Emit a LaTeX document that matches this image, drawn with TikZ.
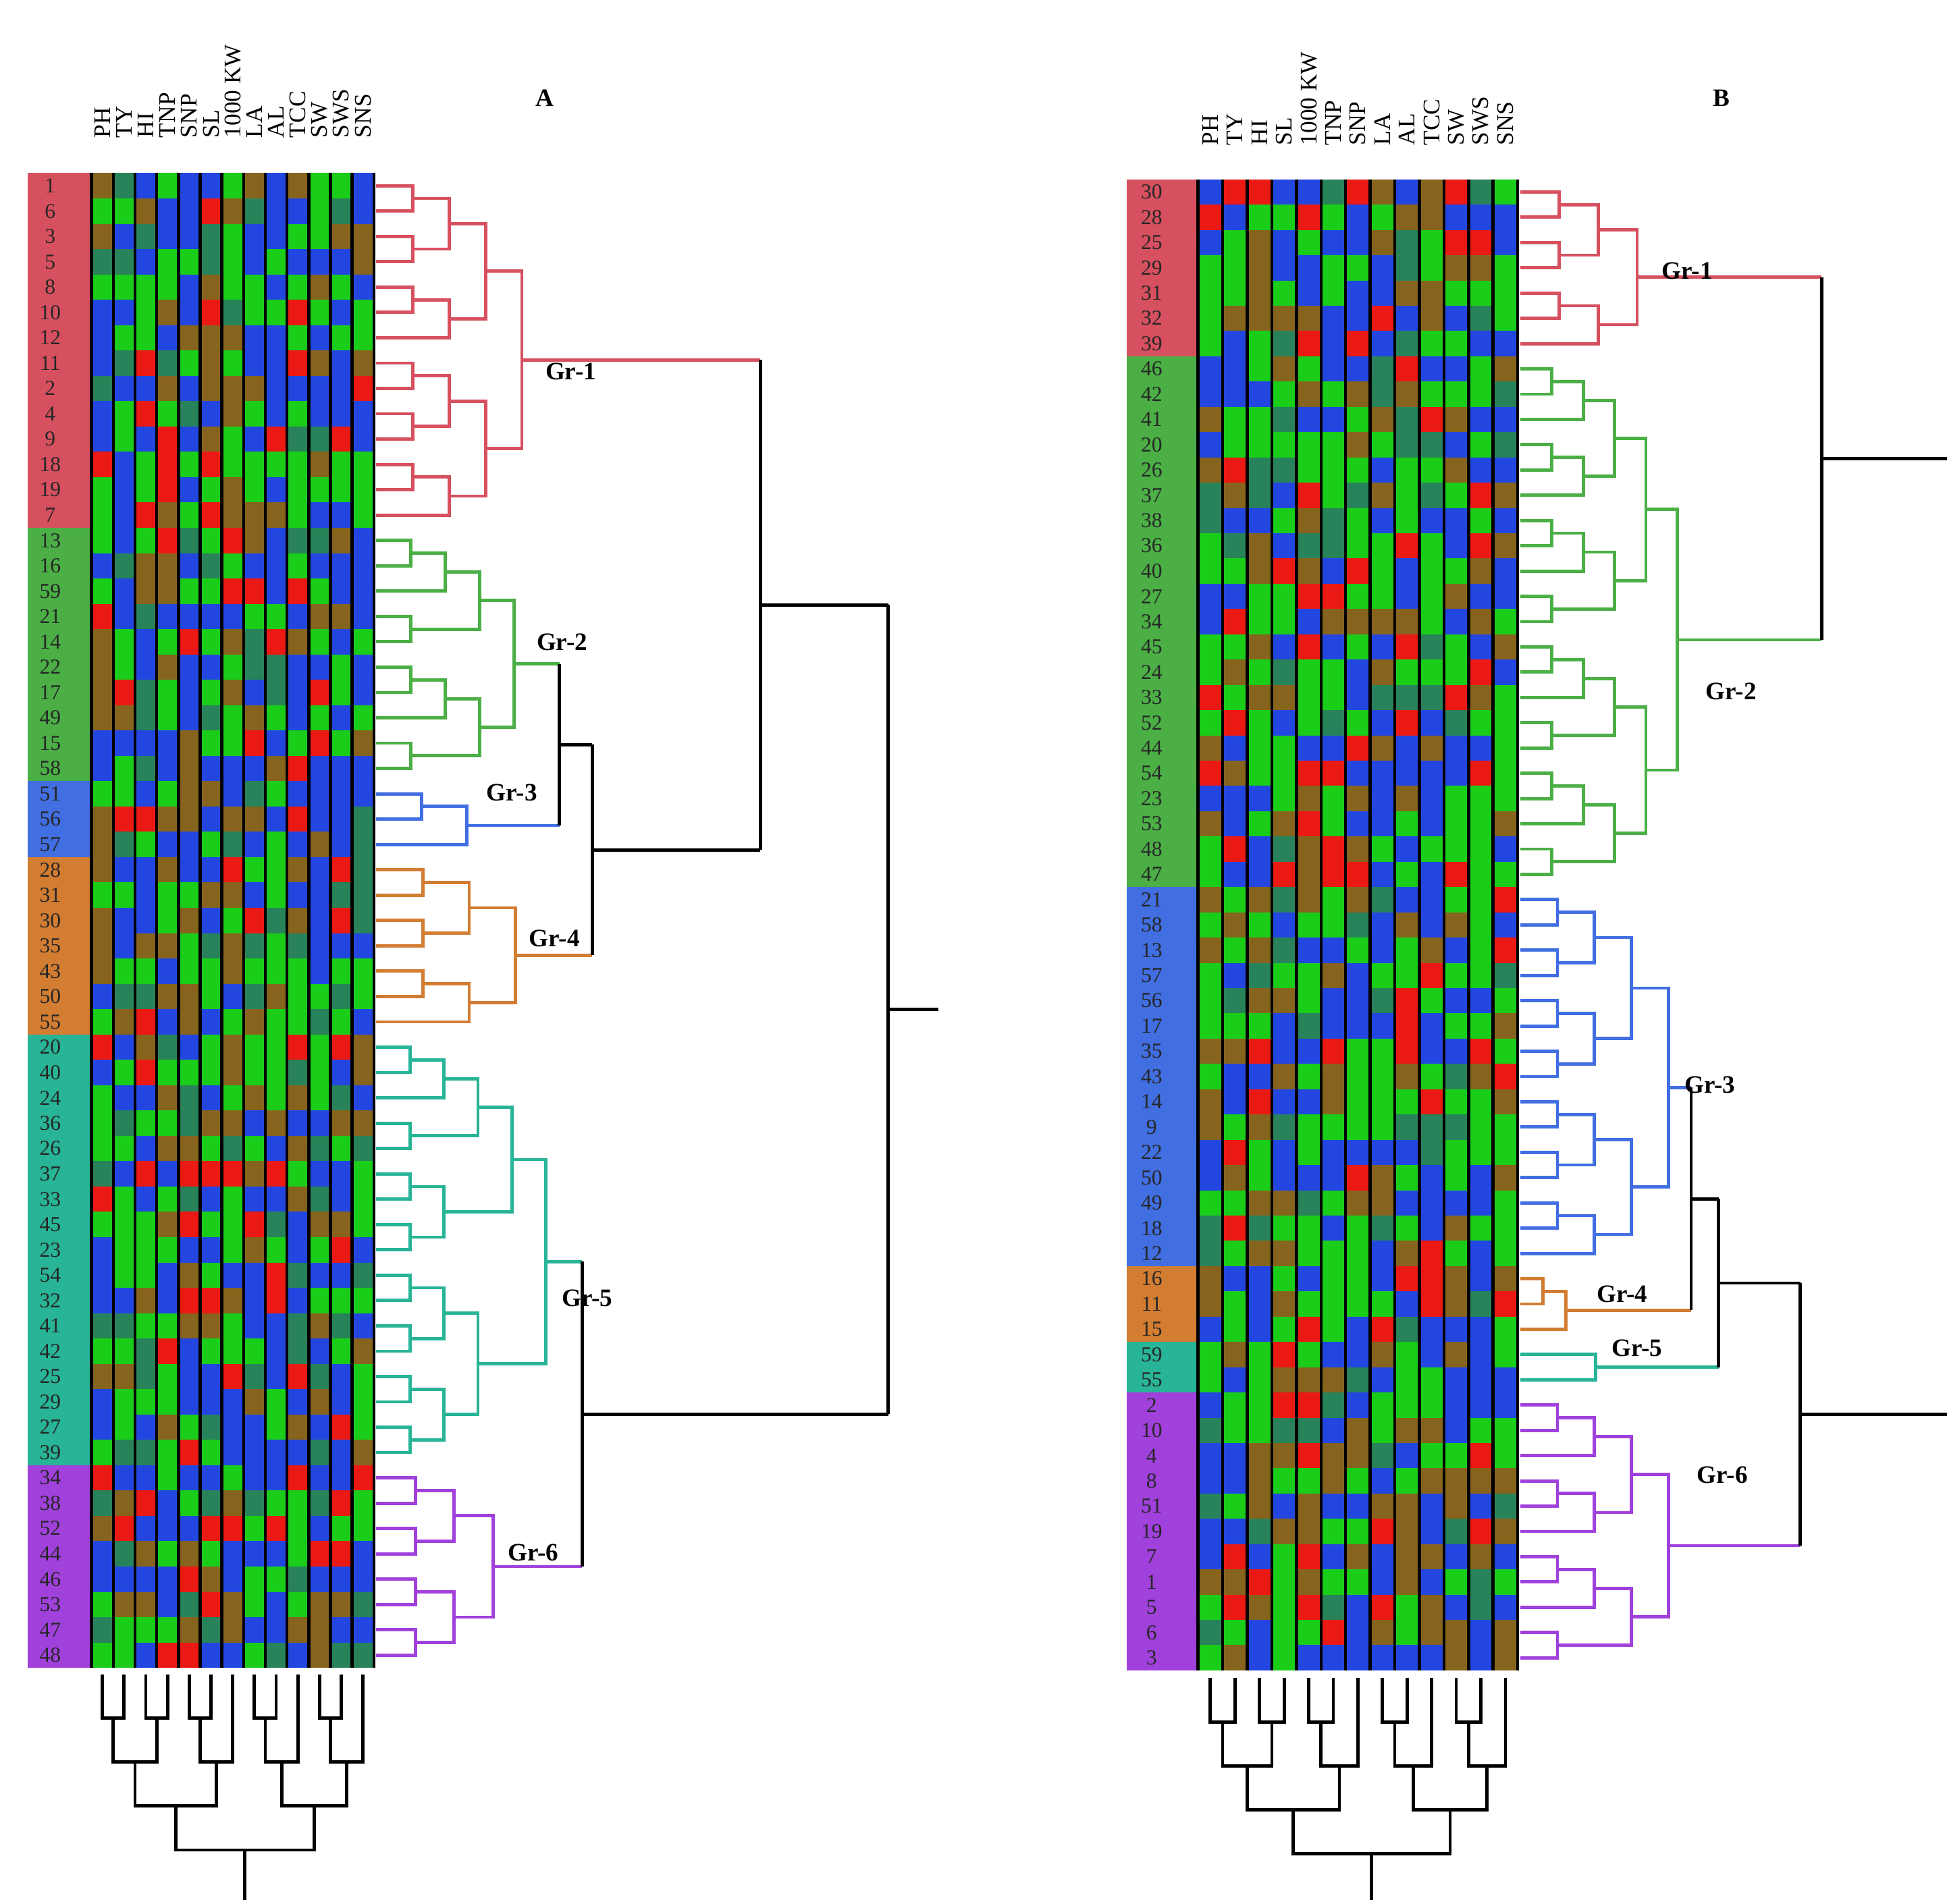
\documentclass[tikz,border=0pt]{standalone}
\usepackage{fontspec}
\setmainfont{Liberation Serif}
\definecolor{hg}{RGB}{25,205,25}
\definecolor{hb}{RGB}{35,70,225}
\definecolor{hr}{RGB}{235,25,20}
\definecolor{hn}{RGB}{135,100,30}
\definecolor{hd}{RGB}{40,130,90}
\definecolor{cR}{RGB}{215,80,95}
\definecolor{cG}{RGB}{75,175,70}
\definecolor{cB}{RGB}{65,110,225}
\definecolor{cO}{RGB}{210,125,50}
\definecolor{cT}{RGB}{40,180,150}
\definecolor{cP}{RGB}{160,65,220}
\newcommand\drawtree[2]{%
 \begingroup
 \edef\lo{\number#1}\edef\hi{\number#2}%
 \ifnum\lo=\hi\relax
   \pgfmathsetmacro\tmpy{\ytop+(\lo-0.5)*\rowh}\xdef\ry{\tmpy}\xdef\rx{\xbase}%
 \else
   \pgfmathtruncatemacro\mymid{(\lo+\hi)/2}%
   \pgfmathtruncatemacro\mymidp{\mymid+1}%
   \edef\callL{\noexpand\drawtree{\lo}{\mymid}}%
   \edef\callR{\noexpand\drawtree{\mymidp}{\hi}}%
   \callL
   \let\lx\rx \let\ly\ry
   \callR
   \pgfmathsetmacro\nx{max(\lx,\rx)+\tstep}%
   \pgfmathsetmacro\ny{(\ly+\ry)/2}%
   \draw[dl,\tc] (\lx,\ly) -- (\nx,\ly) -- (\nx,\ry) -- (\rx,\ry);%
   \xdef\rx{\nx}\xdef\ry{\ny}%
 \fi
 \endgroup}
\newcommand\coltree[2]{%
 \begingroup
 \edef\lo{\number#1}\edef\hi{\number#2}%
 \ifnum\lo=\hi\relax
   \pgfmathsetmacro\tmpx{\xleft+(\lo-0.5)*\colw}\xdef\rx{\tmpx}\xdef\ry{\ybase}%
 \else
   \pgfmathtruncatemacro\mymid{(\lo+\hi)/2}%
   \pgfmathtruncatemacro\mymidp{\mymid+1}%
   \edef\callL{\noexpand\coltree{\lo}{\mymid}}%
   \edef\callR{\noexpand\coltree{\mymidp}{\hi}}%
   \callL
   \let\lx\rx \let\ly\ry
   \callR
   \pgfmathsetmacro\ny{max(\ly,\ry)+\tstep}%
   \pgfmathsetmacro\nx{(\lx+\rx)/2}%
   \draw[dl,black] (\lx,\ly) -- (\lx,\ny) -- (\rx,\ny) -- (\rx,\ry);%
   \xdef\rx{\nx}\xdef\ry{\ny}%
 \fi
 \endgroup}
\newcommand\heat[4]{% x0 y0 cw rh
 \foreach \c in {0,...,12}{\foreach \r in {0,...,58}{%
   \pgfmathrandominteger\k{1}{10}%
   \pgfmathparse{{"hg","hg","hg","hb","hb","hb","hr","hn","hn","hd"}[\k-1]}%
   \edef\cc{\pgfmathresult}%
   \fill[\cc] (#1+\c*#3,#2+\r*#4) rectangle ++(#3,#4);}}%
 \foreach \c in {0,...,13}{\draw[line width=2.4pt,black] (#1+\c*#3,#2) -- (#1+\c*#3,#2+59*#4);}}
\begin{document}
\begin{tikzpicture}[x=1pt,y=-1pt, dl/.style={line width=2.6pt}, rl/.style={font=\fontsize{17}{17}\selectfont, text=black!85},
 hl/.style={rotate=90,anchor=west,font=\fontsize{19}{19}\selectfont,inner sep=0pt},
 gl/.style={font=\bfseries\fontsize{20}{20}\selectfont}]
\fill[white] (0,0) rectangle (1552,1518);
\useasboundingbox (0,0) rectangle (1552,1518);
\pgfmathsetseed{7}
% ---------- Panel A
\def\yA{138}\def\rhA{20.2}\def\cwA{17.31}
\foreach \s/\n/\col in {0/14/cR,14/10/cG,24/3/cB,27/7/cO,34/17/cT,51/8/cP}
  \fill[\col] (22,\yA+\s*\rhA) rectangle (73,\yA+\s*\rhA+\n*\rhA);
\foreach \lab [count=\i from 0] in {1,6,3,5,8,10,12,11,2,4,9,18,19,7,13,16,59,21,14,22,17,49,15,58,51,56,57,28,31,30,35,43,50,55,20,40,24,36,26,37,33,45,23,54,32,41,42,25,29,27,39,34,38,52,44,46,53,47,48}
  \node[rl] (la\i) at (40,\yA+\i*\rhA+0.5*\rhA) {\lab};
\heat{73}{\yA}{\cwA}{\rhA}
\foreach \h [count=\i from 0] in {PH,TY,HI,TNP,SNP,SL,1000 KW,LA,AL,TCC,SW,SWS,SNS}
  \node[hl] (ha\i) at (73+\i*\cwA+0.5*\cwA,110) {\h};
\node[gl] (pA) at (434,78) {A};
\def\xbase{300}\def\ytop{138}\def\rowh{20.2}
\def\tc{cR}\def\tstep{29}\drawtree{1}{14}\xdef\yi{\ry}
\def\tc{cG}\def\tstep{27.5}\drawtree{15}{24}\xdef\yii{\ry}
\def\tc{cB}\def\tstep{36}\drawtree{25}{27}\xdef\yiii{\ry}
\def\tc{cO}\def\tstep{37}\drawtree{28}{34}\xdef\yiv{\ry}
\def\tc{cT}\def\tstep{27}\drawtree{35}{51}\xdef\yv{\ry}
\def\tc{cP}\def\tstep{31}\drawtree{52}{59}\xdef\yvi{\ry}
\pgfmathsetmacro\yxx{(\yii+\yiii)/2}
\pgfmathsetmacro\yxxx{(\yxx+\yiv)/2}
\pgfmathsetmacro\yxxxx{(\yi+\yxxx)/2}
\pgfmathsetmacro\yfs{(\yv+\yvi)/2}
\pgfmathsetmacro\ytopA{(\yxxxx+\yfs)/2}
\draw[dl,cG] (410,\yii) -- (446,\yii);
\draw[dl,cB] (372,\yiii) -- (446,\yiii);
\draw[dl] (446,\yii) -- (446,\yiii);
\draw[dl] (446,\yxx) -- (472,\yxx);
\draw[dl,cO] (410,\yiv) -- (472,\yiv);
\draw[dl] (472,\yxx) -- (472,\yiv);
\draw[dl,cR] (416,\yi) -- (606,\yi);
\draw[dl] (472,\yxxx) -- (606,\yxxx);
\draw[dl] (606,\yi) -- (606,\yxxx);
\draw[dl] (606,\yxxxx) -- (708,\yxxxx);
\draw[dl,cT] (434,\yv) -- (464,\yv);
\draw[dl,cP] (392,\yvi) -- (464,\yvi);
\draw[dl] (464,\yv) -- (464,\yvi);
\draw[dl] (464,\yfs) -- (708,\yfs);
\draw[dl] (708,\yxxxx) -- (708,\yfs);
\draw[dl] (708,\ytopA) -- (748,\ytopA);
\node[gl] (g1) at (455,296) {Gr-1};
\node[gl] (g2) at (448,512) {Gr-2};
\node[gl] (g3) at (408,632) {Gr-3};
\node[gl] (g4) at (442,748) {Gr-4};
\node[gl] (g5) at (468,1035) {Gr-5};
\node[gl] (g6) at (425,1238) {Gr-6};
\def\xleft{73}\def\colw{17.31}\def\ybase{1335}\def\tstep{35}
\coltree{1}{13}
\draw[dl] (\rx,\ry) -- (\rx,1515);
% ---------- Panel B
\def\yB{143}\def\rhB{20.15}\def\cwB{19.6}
\foreach \s/\n/\col in {0/7/cR,7/21/cG,28/15/cB,43/3/cO,46/2/cT,48/11/cP}
  \fill[\col] (898,\yB+\s*\rhB) rectangle (955,\yB+\s*\rhB+\n*\rhB);
\foreach \lab [count=\i from 0] in {30,28,25,29,31,32,39,46,42,41,20,26,37,38,36,40,27,34,45,24,33,52,44,54,23,53,48,47,21,58,13,57,56,17,35,43,14,9,22,50,49,18,12,16,11,15,59,55,2,10,4,8,51,19,7,1,5,6,3}
  \node[rl] (lb\i) at (918,\yB+\i*\rhB+0.5*\rhB) {\lab};
\heat{955}{\yB}{\cwB}{\rhB}
\foreach \h [count=\i from 0] in {PH,TY,HI,SL,1000 KW,TNP,SNP,LA,AL,TCC,SW,SWS,SNS}
  \node[hl] (hb\i) at (955+\i*\cwB+0.5*\cwB,116) {\h};
\node[gl] (pB) at (1372,78) {B};
\def\xbase{1212}\def\ytop{143}\def\rowh{20.15}
\def\tc{cR}\def\tstep{31}\drawtree{1}{7}\xdef\yi{\ry}
\def\tc{cG}\def\tstep{25}\drawtree{8}{28}\xdef\yii{\ry}
\def\tc{cB}\def\tstep{29.5}\drawtree{29}{43}\xdef\yiii{\ry}
\def\tc{cO}\def\tstep{18}\drawtree{44}{46}\xdef\yiv{\ry}
\def\tc{cT}\def\tstep{60}\drawtree{47}{48}\xdef\yv{\ry}
\def\tc{cP}\def\tstep{29.5}\drawtree{49}{59}\xdef\yvi{\ry}
\pgfmathsetmacro\yxx{(\yi+\yii)/2}
\pgfmathsetmacro\yth{(\yiii+\yiv)/2}
\pgfmathsetmacro\ythf{(\yth+\yv)/2}
\pgfmathsetmacro\ybot{(\ythf+\yvi)/2}
\draw[dl,cR] (1305,\yi) -- (1452,\yi);
\draw[dl,cG] (1338,\yii) -- (1452,\yii);
\draw[dl] (1452,\yi) -- (1452,\yii);
\draw[dl] (1452,\yxx) -- (1552,\yxx);
\draw[dl,cB] (1330,\yiii) -- (1348,\yiii);
\draw[dl,cO] (1248,\yiv) -- (1348,\yiv);
\draw[dl] (1348,\yiii) -- (1348,\yiv);
\draw[dl] (1348,\yth) -- (1370,\yth);
\draw[dl,cT] (1272,\yv) -- (1370,\yv);
\draw[dl] (1370,\yth) -- (1370,\yv);
\draw[dl] (1370,\ythf) -- (1435,\ythf);
\draw[dl,cP] (1330,\yvi) -- (1435,\yvi);
\draw[dl] (1435,\ythf) -- (1435,\yvi);
\draw[dl] (1435,\ybot) -- (1552,\ybot);
\node[gl] (h1) at (1345,216) {Gr-1};
\node[gl] (h2) at (1380,551) {Gr-2};
\node[gl] (h3) at (1363,865) {Gr-3};
\node[gl] (h4) at (1293,1032) {Gr-4};
\node[gl] (h5) at (1305,1075) {Gr-5};
\node[gl] (h6) at (1373,1176) {Gr-6};
\def\xleft{955}\def\colw{19.6}\def\ybase{1338}\def\tstep{35}
\coltree{1}{13}
\draw[dl] (\rx,\ry) -- (\rx,1515);
\end{tikzpicture}
\end{document}
